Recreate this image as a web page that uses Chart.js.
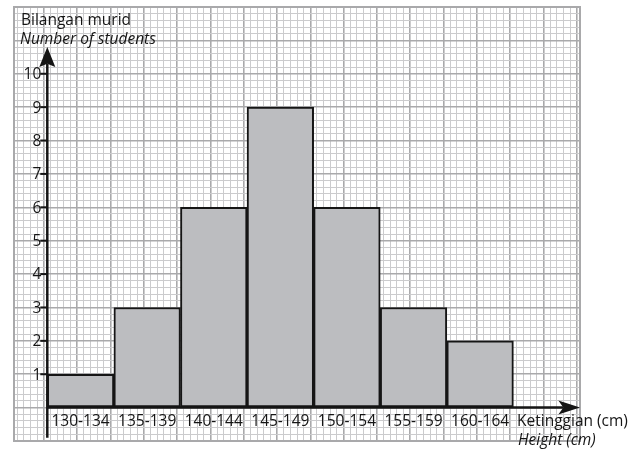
<!DOCTYPE html>
<html>
<head>
<meta charset="utf-8">
<script src="https://cdn.jsdelivr.net/npm/chart.js@4.4.0/dist/chart.umd.min.js"></script>
<style>
    html, body { margin: 0; padding: 0; background: #ffffff; }
    #wrap { width: 642px; height: 449px; position: relative; }
</style>
</head>
<body>
<div id="wrap"><canvas id="histChart"></canvas></div>
<script>
// height classes and number of students
const categories = ["130-134", "135-139", "140-144", "145-149", "150-154", "155-159", "160-164"];
const students = [1, 3, 6, 9, 6, 3, 2];
const yTickLabels = [1, 2, 3, 4, 5, 6, 7, 8, 9, 10];
const yTitle = ["Bilangan murid", "Number of students"];
const xTitle = ["Ketinggian (cm)", "Height (cm)"];

const FONT = "'Open Sans', 'DejaVu Sans', sans-serif";

// each class is 2 grid squares wide, centred at 1,3,5...
const barPoints = students.map((v, i) => ({ x: i * 2 + 1, y: v }));

function isMajor(c) {
    if (!c.tick) return true;
    const v = c.tick.value;
    return Math.abs(v - Math.round(v)) < 1e-6;
}

const gridOpts = {
    drawTicks: false,
    color: c => isMajor(c) ? "#a9a9ab" : "#cbcbcd",
    lineWidth: c => isMajor(c) ? 1.6 : 1
};

const paperPlugin = {
    id: "paper",
    beforeDatasetsDraw(chart) {
        const { ctx, chartArea } = chart;
        ctx.save();
        ctx.strokeStyle = "#a9a9ab";
        ctx.lineWidth = 2;
        ctx.strokeRect(chartArea.left, chartArea.top, chartArea.right - chartArea.left, chartArea.bottom - chartArea.top);
        ctx.restore();
    },
    afterDatasetsDraw(chart) {
        const { ctx } = chart;
        const xs = chart.scales.x;
        const ys = chart.scales.y;
        const x0 = xs.getPixelForValue(0);
        const y0 = ys.getPixelForValue(0);

        ctx.save();
        ctx.strokeStyle = "#151515";
        ctx.fillStyle = "#151515";
        ctx.lineWidth = 2.5;

        // y axis
        ctx.beginPath();
        ctx.moveTo(x0, ys.getPixelForValue(-0.9));
        ctx.lineTo(x0, ys.getPixelForValue(10.3));
        ctx.stroke();
        ctx.beginPath();
        ctx.moveTo(x0, ys.getPixelForValue(10.8));
        ctx.lineTo(x0 - 8, ys.getPixelForValue(10.2));
        ctx.lineTo(x0, ys.getPixelForValue(10.3));
        ctx.lineTo(x0 + 8, ys.getPixelForValue(10.2));
        ctx.closePath();
        ctx.fill();

        // x axis
        ctx.beginPath();
        ctx.moveTo(x0, y0);
        ctx.lineTo(xs.getPixelForValue(15.5), y0);
        ctx.stroke();
        ctx.beginPath();
        ctx.moveTo(xs.getPixelForValue(16), y0);
        ctx.lineTo(xs.getPixelForValue(15.35), y0 - 7);
        ctx.lineTo(xs.getPixelForValue(15.5), y0);
        ctx.lineTo(xs.getPixelForValue(15.35), y0 + 7);
        ctx.closePath();
        ctx.fill();

        // y ticks + labels
        ctx.lineWidth = 2;
        ctx.font = "15.5px " + FONT;
        ctx.textAlign = "right";
        ctx.textBaseline = "middle";
        yTickLabels.forEach(v => {
            const py = ys.getPixelForValue(v);
            ctx.beginPath();
            ctx.moveTo(x0 - 7, py);
            ctx.lineTo(x0, py);
            ctx.stroke();
            ctx.fillText(String(v), x0 - 6, py + 1);
        });

        // class labels
        ctx.textAlign = "center";
        categories.forEach((c, i) => {
            ctx.fillText(c, xs.getPixelForValue(i * 2 + 1), y0 + 14);
        });

        // titles
        ctx.textAlign = "left";
        ctx.textBaseline = "alphabetic";
        ctx.fillText(yTitle[0], 21, 25);
        ctx.font = "italic 15.5px " + FONT;
        ctx.fillText(yTitle[1], 20, 44);
        ctx.font = "15.5px " + FONT;
        ctx.fillText(xTitle[0], 517, 426);
        ctx.font = "italic 15.5px " + FONT;
        ctx.fillText(xTitle[1], 518, 445);
        ctx.restore();
    }
};

const ctx = document.getElementById("histChart").getContext("2d");
new Chart(ctx, {
    type: "bar",
    data: {
        datasets: [{
            data: barPoints,
            backgroundColor: "#bcbdc0",
            borderColor: "#151515",
            borderWidth: 2,
            borderSkipped: false,
            barPercentage: 1,
            categoryPercentage: 1
        }]
    },
    options: {
        responsive: true,
        maintainAspectRatio: false,
        animation: false,
        layout: {
            padding: { left: 14, top: 7, right: 62, bottom: 8 }
        },
        plugins: {
            legend: { display: false },
            tooltip: { enabled: false }
        },
        scales: {
            x: {
                type: "linear",
                offset: false,
                min: -1,
                max: 16,
                ticks: { display: false, stepSize: 2, includeBounds: false },
                border: { display: false },
                grid: { display: false, drawTicks: false }
            },
            // graph paper grid
            xg: {
                type: "linear",
                axis: "x",
                position: "bottom",
                offset: false,
                min: -1,
                max: 16,
                ticks: { display: false, stepSize: 0.2 },
                border: { display: false },
                grid: gridOpts
            },
            y: {
                type: "linear",
                min: -1,
                max: 12,
                ticks: { display: false, stepSize: 0.2 },
                border: { display: false },
                grid: gridOpts
            }
        }
    },
    plugins: [paperPlugin]
});
</script>
</body>
</html>
